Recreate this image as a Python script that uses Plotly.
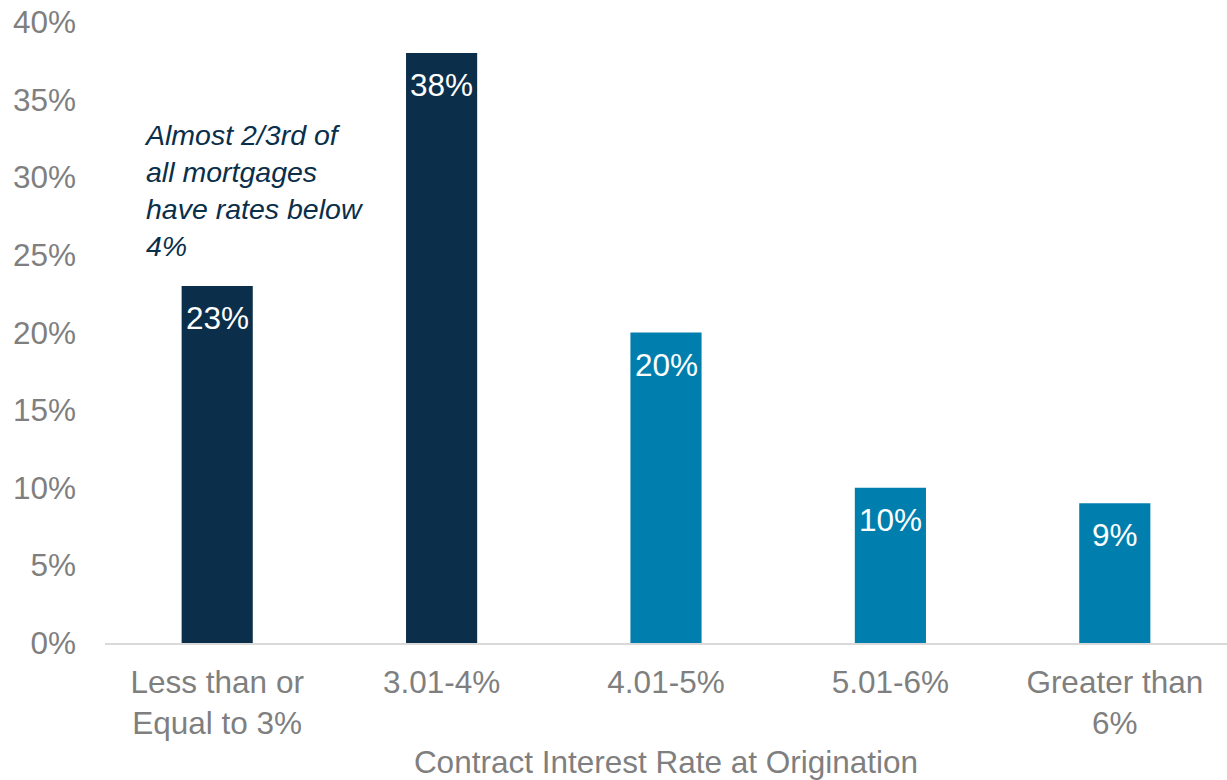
import plotly.graph_objects as go

# Share of outstanding mortgages by contract rate at origination
categories = ["Less than or<br>Equal to 3%", "3.01-4%", "4.01-5%", "5.01-6%", "Greater than<br>6%"]
shares = [23, 38, 20, 10, 9]
bar_colors = ["#0b2f4a", "#0b2f4a", "#007fae", "#007fae", "#007fae"]
y_ticks = [0, 5, 10, 15, 20, 25, 30, 35, 40]

FONT = "Liberation Sans, Arial, sans-serif"
GREY = "#7f7f7f"
FS = 31.5

fig = go.Figure()
fig.add_trace(go.Bar(
    x=categories,
    y=shares,
    marker=dict(color=bar_colors, line=dict(width=0)),
    width=0.317,
    hoverinfo="skip",
))

# value labels just inside the top of each bar
for cat, val in zip(categories, shares):
    fig.add_annotation(
        x=cat, y=val, text=f"{val}%", showarrow=False,
        yanchor="top", yshift=-12,
        font=dict(family=FONT, size=FS, color="white"),
    )

fig.add_annotation(
    xref="paper", yref="y", x=0.033, y=33.9,
    xanchor="left", yanchor="top", align="left",
    text="<i>Almost 2/3rd of<br>all mortgages<br>have rates below<br>4%</i>",
    showarrow=False,
    font=dict(family=FONT, size=28.5, color="#0b2f4a"),
)

fig.update_layout(
    width=1227, height=780,
    margin=dict(l=105, r=0, t=22, b=137),
    paper_bgcolor="white", plot_bgcolor="white",
    showlegend=False,
    font=dict(family=FONT, size=FS, color=GREY),
    bargap=0.683,
)
fig.update_xaxes(
    showline=True, linecolor="#d9d9d9", linewidth=2,
    showgrid=False, ticks="", ticklabelstandoff=10,
    tickfont=dict(family=FONT, size=FS, color=GREY),
    title=dict(text="Contract Interest Rate at Origination", standoff=14,
               font=dict(family=FONT, size=FS, color=GREY)),
)
fig.update_yaxes(
    range=[0, 40], tickvals=y_ticks,
    ticktext=[f"{t}%" for t in y_ticks],
    showgrid=False, zeroline=False, showline=False, ticks="",
    ticklabelstandoff=28,
    tickfont=dict(family=FONT, size=FS, color=GREY),
)

fig.write_html("out.html")
